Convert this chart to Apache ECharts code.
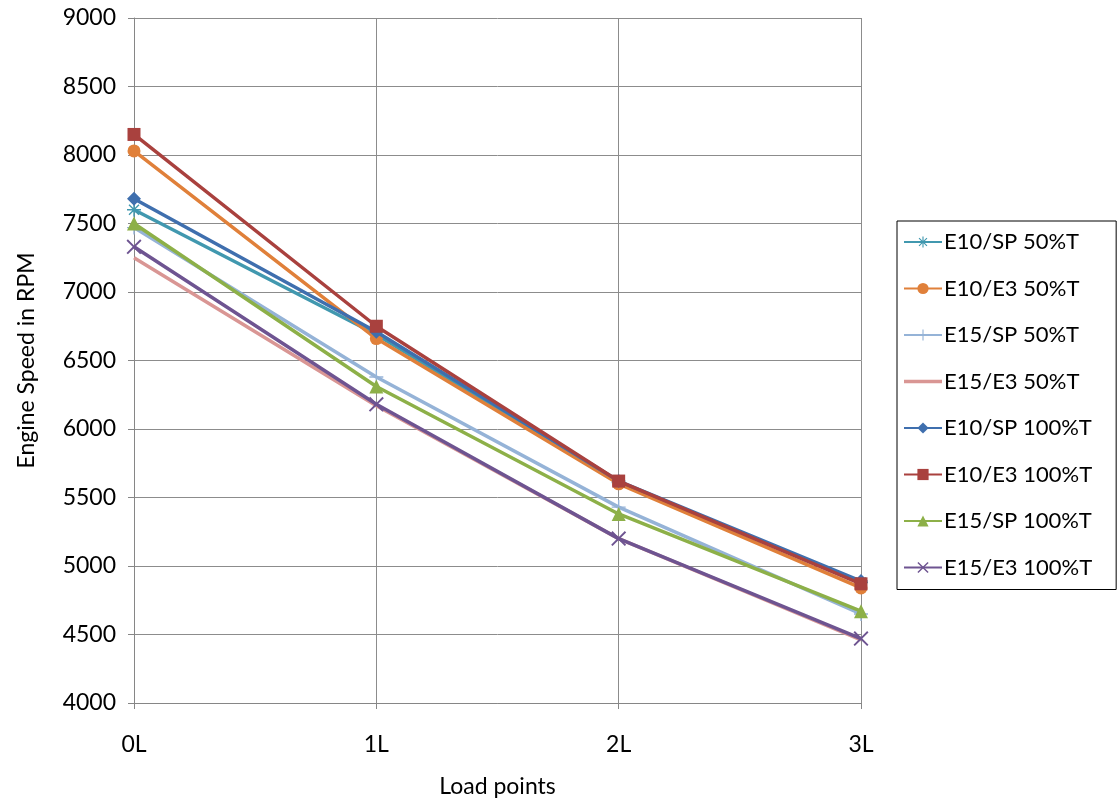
<!DOCTYPE html>
<html><head><meta charset="utf-8">
<script src="https://cdn.jsdelivr.net/npm/echarts@6/dist/echarts.min.js"></script>
<style>html,body{margin:0;padding:0;background:#fff}#c{width:1120px;height:803px}</style>
</head><body><div id="c"></div>
<script>
const categories = ['0L','1L','2L','3L'];
const seriesNames = ['E10/SP 50%T','E10/E3 50%T','E15/SP 50%T','E15/E3 50%T','E10/SP 100%T','E10/E3 100%T','E15/SP 100%T','E15/E3 100%T'];
const e10sp50 = [7600, 6690, 5610, 4880];
const e10e350 = [8030, 6660, 5600, 4840];
const e15sp50 = [7470, 6380, 5430, 4650];
const e15e350 = [7250, 6170, 5200, 4460];
const e10sp100 = [7680, 6710, 5620, 4890];
const e10e3100 = [8150, 6750, 5620, 4870];
const e15sp100 = [7500, 6310, 5380, 4670];
const e15e3100 = [7330, 6180, 5200, 4470];
const yTicks = [4000,4500,5000,5500,6000,6500,7000,7500,8000,8500,9000];

const colors = ['#4198AF','#E0803A','#95B3D7','#D99694','#3F6FAE','#A9413E','#8DB048','#6E5491'];
const star = 'path://M9,0H11V7.6L16.4,2.2L17.8,3.6L12.4,9H20V11H12.4L17.8,16.4L16.4,17.8L11,12.4V20H9V12.4L3.6,17.8L2.2,16.4L7.6,11H0V9H7.6L2.2,3.6L3.6,2.2L9,7.6Z';
const plus = 'path://M9,0H11V9H20V11H11V20H9V11H0V9H9Z';
const cross = 'path://M2.2,3.6L3.6,2.2L10,8.6L16.4,2.2L17.8,3.6L11.4,10L17.8,16.4L16.4,17.8L10,11.4L3.6,17.8L2.2,16.4L8.6,10Z';
const lineIcon = 'path://M0,0L0.01,0M38,14L37.99,14M0,5.3H38V8.7H0Z';
const symbols = [star,'circle',plus,'none','diamond','rect','triangle',cross];
const sizes = [14,13,14,0,14,13,14,15];
const data = [e10sp50,e10e350,e15sp50,e15e350,e10sp100,e10e3100,e15sp100,e15e3100];

const series = seriesNames.map((n,i)=>({
  name:n, type:'line', data:data[i], symbol:symbols[i], symbolSize:sizes[i],
  showAllSymbol:true,
  lineStyle:{color:colors[i], width:3.5},
  itemStyle:{color:colors[i]},
  z: 2+i
}));
const legendData = seriesNames.map((n,i)=> symbols[i]==='none' ? {name:n, icon:lineIcon} : {name:n});
const chart = echarts.init(document.getElementById('c'));
chart.setOption({
  animation:false,
  color:colors,
  grid:{left:134,right:259,top:18,bottom:98,containLabel:false},
  xAxis:{type:'category',data:categories,boundaryGap:false,
    axisLine:{lineStyle:{color:'#868686',width:1}},
    axisTick:{show:true,alignWithLabel:true,length:6,lineStyle:{color:'#868686'}},
    axisLabel:{color:'#000',fontSize:23,fontFamily:'Lato',margin:30},
    splitLine:{show:true,lineStyle:{color:'#8c8c8c',width:1}},
    name:'Load points',nameLocation:'middle',nameGap:72,
    nameTextStyle:{color:'#000',fontSize:23,fontFamily:'Lato'}},
  yAxis:{type:'value',min:4000,max:9000,interval:500,
    axisLine:{show:true,lineStyle:{color:'#868686',width:1}},
    axisTick:{show:true,length:6,lineStyle:{color:'#868686'}},
    axisLabel:{color:'#000',fontSize:23,fontFamily:'Lato',margin:18,formatter:v=>String(v)},
    splitLine:{show:true,lineStyle:{color:'#8c8c8c',width:1}},
    name:'Engine Speed in RPM',nameLocation:'middle',nameGap:96,nameRotate:90,
    nameTextStyle:{color:'#000',fontSize:23,fontFamily:'Lato'}},
  legend:{orient:'vertical',left:897,top:221,
    borderColor:'#000',borderWidth:1,padding:[10,24,11,6],
    itemGap:24.5,itemWidth:38,itemHeight:14,
    textStyle:{color:'#000',fontSize:22,fontFamily:'Lato',padding:[0,0,0,-3]},
    data:legendData},
  series:series
});
</script></body></html>
